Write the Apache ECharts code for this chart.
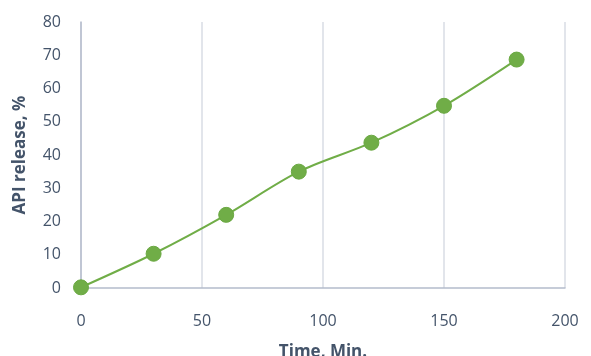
<!DOCTYPE html>
<html>
<head>
<meta charset="utf-8">
<script src="https://cdn.jsdelivr.net/npm/echarts@6/dist/echarts.min.js"></script>
<style>
  html, body { margin: 0; padding: 0; background: #fff; }
  #chart { width: 591px; height: 356px; }
</style>
</head>
<body>
<div id="chart"></div>
<script>
const timeMin = [0, 30, 60, 90, 120, 150, 180]
const apiRelease = [0.2, 10.3, 22, 35, 43.7, 54.8, 68.7]
const xTicks = [0, 50, 100, 150, 200]
const yTicks = [0, 10, 20, 30, 40, 50, 60, 70, 80]

const textColor = '#44546a'
const lineGreen = '#70ad47'

const chart = echarts.init(document.getElementById('chart'))
chart.setOption({
  animation: false,
  textStyle: { fontFamily: 'Open Sans' },
  grid: { left: 81, right: 26, top: 22, bottom: 68, outerBoundsMode: 'none' },
  xAxis: {
    type: 'value',
    min: xTicks[0],
    max: xTicks[xTicks.length - 1],
    interval: 50,
    name: 'Time, Min.',
    nameLocation: 'middle',
    nameGap: 56,
    nameTextStyle: { color: textColor, fontSize: 17, fontWeight: 'bold' },
    axisLine: { show: true, lineStyle: { color: '#b4bccc', width: 1.5 } },
    axisTick: { show: false },
    axisLabel: { color: textColor, fontSize: 16, margin: 25 },
    splitLine: { show: true, lineStyle: { color: '#d9dde5', width: 1.5 } },
  },
  yAxis: {
    type: 'value',
    min: yTicks[0],
    max: yTicks[yTicks.length - 1],
    interval: 10,
    name: 'API release, %',
    nameLocation: 'middle',
    nameGap: 52,
    nameTextStyle: { color: textColor, fontSize: 17, fontWeight: 'bold' },
    axisLine: { show: true, lineStyle: { color: '#b4bccc', width: 1.5 } },
    axisTick: { show: false },
    axisLabel: { color: textColor, fontSize: 16, margin: 20 },
    splitLine: { show: false },
  },
  series: [{
    type: 'line',
    data: timeMin.map((t, i) => [t, apiRelease[i]]),
    smooth: 0.3,
    symbol: 'circle',
    symbolSize: 15,
    lineStyle: { color: lineGreen, width: 2 },
    itemStyle: { color: lineGreen, borderColor: '#6aa842', borderWidth: 1 },
  }],
})
</script>
</body>
</html>
